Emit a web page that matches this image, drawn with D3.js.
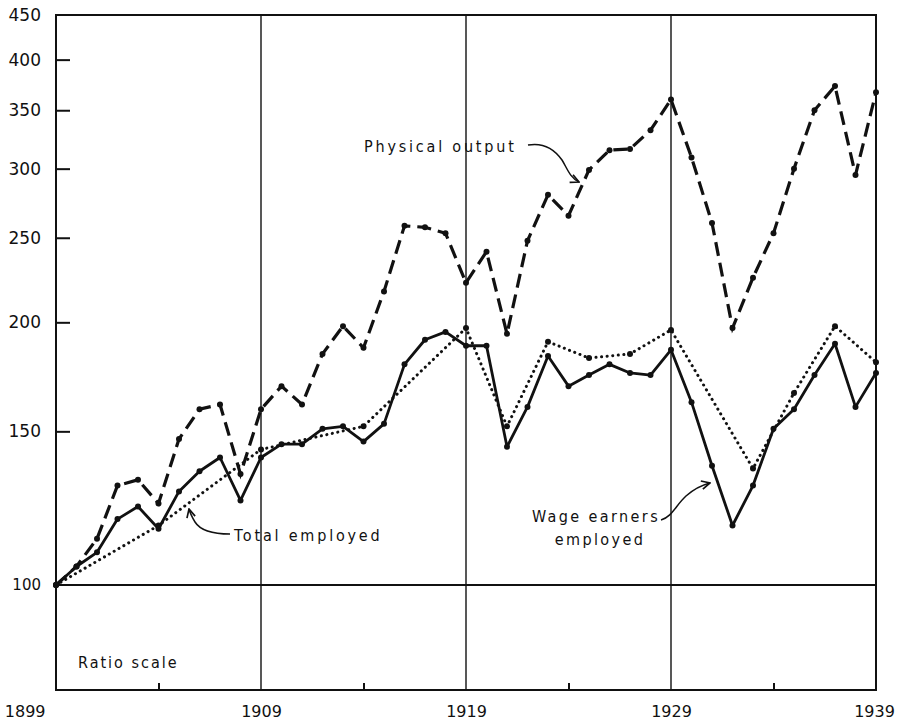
<!DOCTYPE html>
<meta charset="utf-8">
<script src="https://cdn.jsdelivr.net/npm/d3@7"></script>
<style>
  body { margin: 0; background: #fff; }
  svg { display: block; }
  text { font-family: "DejaVu Sans", sans-serif; fill: #111; }
  .lab { font-family: "DejaVu Sans Condensed", "Liberation Sans Narrow", "DejaVu Sans", sans-serif; font-stretch: condensed; }
</style>
<body>
<div id="chart"></div>
<script>

// ----- data (index, 1899 = 100, ratio scale)
var years = [1899,1900,1901,1902,1903,1904,1905,1906,1907,1908,
             1909,1910,1911,1912,1913,1914,1915,1916,1917,1918,
             1919,1920,1921,1922,1923,1924,1925,1926,1927,1928,
             1929,1930,1931,1932,1933,1934,1935,1936,1937,1938,1939]
var physicalOutput = [100,105,113,130,132,124,147,159,161,134,
                      159,169,161,184,198,187,217,258,257,253,
                      222,241,194,248,280,265,299,315,316,332,
                      360,309,260,197,225,253,300,350,373,295,367]
var wageEarners = [100,105,109,119,123,116,128,135,140,125,
                   140,145,145,151,152,146,153,179,191,195,
                   188,188,144,160,183,169,174,179,175,174,
                   186,162,137,117,130,151,159,174,189,160,175]
var totalYears = [1899,1904,1909,1914,1919,1921,1923,1925,1927,1929,1933,1935,1937,1939]
var totalEmployed = [100,117,143,152,197,152,190,182,184,196,136,166,198,180]

var yTicks = [100,150,200,250,300,350,400,450]
var xLabels = [1899,1909,1919,1929,1939]
var xMinorTicks = [1904,1914,1924,1934]
var decadeLines = [1909,1919,1929]

var width = 900, height = 723
var margin = {top: 15, right: 24, bottom: 33, left: 56}
var yLow = 75.8, yHigh = 450

var svg = d3.select("#chart").append("svg")
  .attr("width", width).attr("height", height)

var xScale = d3.scaleLinear()
  .domain([1899, 1939])
  .range([margin.left, width - margin.right])
var yScale = d3.scaleLog()
  .domain([yLow, yHigh])
  .range([height - margin.bottom, margin.top])

var x0 = xScale.range()[0], x1 = xScale.range()[1]
var yTop = yScale.range()[1], yBot = yScale.range()[0]

// decade verticals
svg.selectAll(".decade").data(decadeLines).enter().append("line")
  .attr("x1", function(d) { return xScale(d) }).attr("x2", function(d) { return xScale(d) })
  .attr("y1", yTop).attr("y2", yBot)
  .attr("stroke", "#111").attr("stroke-width", 1.4)

// base line at 100
svg.append("line")
  .attr("x1", x0).attr("x2", x1)
  .attr("y1", yScale(100)).attr("y2", yScale(100))
  .attr("stroke", "#111").attr("stroke-width", 2)

// frame
svg.append("rect")
  .attr("x", x0).attr("y", yTop)
  .attr("width", x1 - x0).attr("height", yBot - yTop)
  .attr("fill", "none").attr("stroke", "#111").attr("stroke-width", 2)

// y axis (ticks point inward)
var yAxis = svg.append("g")
  .attr("transform", "translate(" + x0 + ",0)")
  .call(d3.axisLeft(yScale).tickValues(yTicks).tickFormat(d3.format("d"))
    .tickSizeInner(-14).tickSizeOuter(0).tickPadding(15))
yAxis.select(".domain").remove()
yAxis.selectAll(".tick line").attr("stroke", "#111").attr("stroke-width", 2)
  .attr("display", function(d) { return (d == 100 || d == 450) ? "none" : null })
yAxis.selectAll(".tick text")
  .style("font-family", "DejaVu Sans, sans-serif")
  .style("font-size", function(d) { return d == 100 ? "15px" : "17px" })

// x axis: minor ticks inward, labels below
var xAxis = svg.append("g")
  .attr("transform", "translate(0," + yBot + ")")
  .call(d3.axisBottom(xScale).tickValues(xMinorTicks).tickFormat("").tickSizeInner(-7).tickSizeOuter(0))
xAxis.select(".domain").remove()
xAxis.selectAll(".tick line").attr("stroke", "#111").attr("stroke-width", 2)

var xLab = svg.append("g")
  .attr("transform", "translate(0," + yBot + ")")
  .call(d3.axisBottom(xScale).tickValues(xLabels).tickFormat(d3.format("d")).tickSize(0).tickPadding(16))
xLab.select(".domain").remove()
xLab.selectAll(".tick text").style("font-size", "16px")
  .style("font-family", "DejaVu Sans, sans-serif")
  .attr("text-anchor", function(d) { return d == 1899 ? "end" : "middle" })
  .attr("dx", function(d) { return d == 1899 ? -11 : (d == 1939 ? -2 : 0) })

// ----- series
var outData = years.map(function(y, i) { return {x: y, v: physicalOutput[i]} })
var wageData = years.map(function(y, i) { return {x: y, v: wageEarners[i]} })
var totData = totalYears.map(function(y, i) { return {x: y, v: totalEmployed[i]} })

var line = d3.line()
  .x(function(d) { return xScale(d.x) })
  .y(function(d) { return yScale(d.v) })

svg.append("path").datum(totData)
  .attr("d", line).attr("fill", "none").attr("stroke", "#111")
  .attr("stroke-width", 3).attr("stroke-linecap", "round")
  .attr("stroke-dasharray", "0.1,5.5")

svg.append("path").datum(wageData)
  .attr("d", line).attr("fill", "none").attr("stroke", "#111")
  .attr("stroke-width", 2.8).attr("stroke-linejoin", "round")

svg.append("path").datum(outData)
  .attr("d", line).attr("fill", "none").attr("stroke", "#111")
  .attr("stroke-width", 3.2).attr("stroke-dasharray", "14,7")

var allPts = [outData, wageData, totData]
allPts.forEach(function(series) {
  svg.append("g").selectAll("circle").data(series).enter().append("circle")
    .attr("cx", function(d) { return xScale(d.x) })
    .attr("cy", function(d) { return yScale(d.v) })
    .attr("r", 3)
    .attr("fill", "#111")
})

// ----- annotations
function label(x, y, t, anchor, ls) {
  svg.append("text").attr("class", "lab")
    .attr("x", x).attr("y", y)
    .attr("text-anchor", anchor || "start")
    .style("font-size", "16px").style("letter-spacing", (ls || 2.8) + "px")
    .text(t)
}
label(364, 152, "Physical output")
label(234, 541, "Total employed")
label(596, 522, "Wage earners", "middle", 2.4)
label(600, 545, "employed", "middle", 2.4)
label(78, 668, "Ratio scale", "start", 2)

svg.append("defs").append("marker")
  .attr("id", "head").attr("viewBox", "0 0 10 10")
  .attr("refX", 9).attr("refY", 5)
  .attr("markerWidth", 7).attr("markerHeight", 7)
  .attr("orient", "auto-start-reverse")
  .append("path").attr("d", "M1,1 L9,5 L1,9").attr("fill", "none")
  .attr("stroke", "#111").attr("stroke-width", 1.6)

var arrows = [
  "M528,145 C545,142 555,150 562,160 C567,168 570,178 579,182",
  "M230,534 C212,534 200,530 195,522 C192,517 190,513 189,509",
  "M661,520 C672,517 676,505 686,496 C694,489 702,485 710,483"
]
arrows.forEach(function(p) {
  svg.append("path").attr("d", p)
    .attr("fill", "none").attr("stroke", "#111").attr("stroke-width", 1.5)
    .attr("marker-end", "url(#head)")
})

</script>
</body>
